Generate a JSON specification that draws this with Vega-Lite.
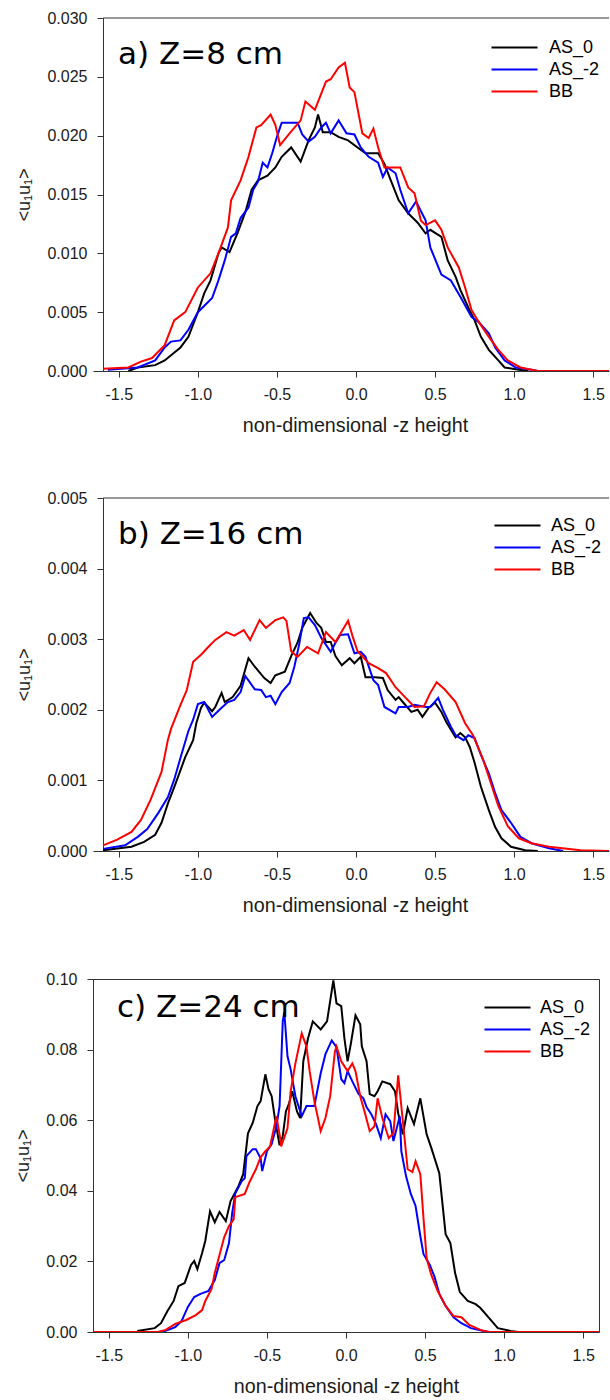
{
  "$schema": "https://vega.github.io/schema/vega-lite/v6.json",
  "background": "white",
  "padding": {"left": 14, "top": 10, "right": 0, "bottom": 0},
  "spacing": 55,
  "resolve": {"scale": {"color": "independent"}, "legend": {"color": "independent"}},
  "datasets": {
    "a": [
      {"s":"AS_0","x":-1.44,"y":0},{"s":"AS_0","x":-1.38,"y":0.0003},{"s":"AS_0","x":-1.27,"y":0.0005},{"s":"AS_0","x":-1.21,"y":0.0009},{"s":"AS_0","x":-1.11,"y":0.0020},{"s":"AS_0","x":-1.06,"y":0.0029},{"s":"AS_0","x":-1.00,"y":0.0050},{"s":"AS_0","x":-0.96,"y":0.0066},{"s":"AS_0","x":-0.92,"y":0.0077},{"s":"AS_0","x":-0.87,"y":0.0100},{"s":"AS_0","x":-0.85,"y":0.0105},{"s":"AS_0","x":-0.80,"y":0.0101},{"s":"AS_0","x":-0.75,"y":0.0117},{"s":"AS_0","x":-0.70,"y":0.0135},{"s":"AS_0","x":-0.66,"y":0.0154},{"s":"AS_0","x":-0.62,"y":0.0162},{"s":"AS_0","x":-0.56,"y":0.0166},{"s":"AS_0","x":-0.51,"y":0.0173},{"s":"AS_0","x":-0.47,"y":0.0182},{"s":"AS_0","x":-0.41,"y":0.0190},{"s":"AS_0","x":-0.35,"y":0.0178},{"s":"AS_0","x":-0.30,"y":0.0196},{"s":"AS_0","x":-0.26,"y":0.0207},{"s":"AS_0","x":-0.24,"y":0.0218},{"s":"AS_0","x":-0.21,"y":0.0203},{"s":"AS_0","x":-0.16,"y":0.0203},{"s":"AS_0","x":-0.11,"y":0.0199},{"s":"AS_0","x":-0.05,"y":0.0196},{"s":"AS_0","x":0.01,"y":0.0190},{"s":"AS_0","x":0.06,"y":0.0185},{"s":"AS_0","x":0.14,"y":0.0185},{"s":"AS_0","x":0.18,"y":0.0176},{"s":"AS_0","x":0.22,"y":0.0162},{"s":"AS_0","x":0.27,"y":0.0145},{"s":"AS_0","x":0.33,"y":0.0134},{"s":"AS_0","x":0.39,"y":0.0126},{"s":"AS_0","x":0.44,"y":0.0117},{"s":"AS_0","x":0.47,"y":0.0120},{"s":"AS_0","x":0.54,"y":0.0114},{"s":"AS_0","x":0.58,"y":0.0094},{"s":"AS_0","x":0.63,"y":0.0080},{"s":"AS_0","x":0.66,"y":0.0069},{"s":"AS_0","x":0.71,"y":0.0054},{"s":"AS_0","x":0.75,"y":0.0043},{"s":"AS_0","x":0.79,"y":0.0029},{"s":"AS_0","x":0.84,"y":0.0018},{"s":"AS_0","x":0.90,"y":0.0009},{"s":"AS_0","x":0.94,"y":0.0003},{"s":"AS_0","x":1.03,"y":0.0001},{"s":"AS_0","x":1.09,"y":0},
      {"s":"AS_-2","x":-1.57,"y":0.0001},{"s":"AS_-2","x":-1.38,"y":0.0003},{"s":"AS_-2","x":-1.27,"y":0.0009},{"s":"AS_-2","x":-1.21,"y":0.0020},{"s":"AS_-2","x":-1.17,"y":0.0025},{"s":"AS_-2","x":-1.11,"y":0.0026},{"s":"AS_-2","x":-1.06,"y":0.0035},{"s":"AS_-2","x":-1.00,"y":0.0050},{"s":"AS_-2","x":-0.94,"y":0.0058},{"s":"AS_-2","x":-0.91,"y":0.0062},{"s":"AS_-2","x":-0.87,"y":0.0077},{"s":"AS_-2","x":-0.83,"y":0.0094},{"s":"AS_-2","x":-0.79,"y":0.0114},{"s":"AS_-2","x":-0.76,"y":0.0117},{"s":"AS_-2","x":-0.73,"y":0.0130},{"s":"AS_-2","x":-0.68,"y":0.0139},{"s":"AS_-2","x":-0.65,"y":0.0154},{"s":"AS_-2","x":-0.62,"y":0.0161},{"s":"AS_-2","x":-0.59,"y":0.0177},{"s":"AS_-2","x":-0.56,"y":0.0173},{"s":"AS_-2","x":-0.53,"y":0.0185},{"s":"AS_-2","x":-0.50,"y":0.0199},{"s":"AS_-2","x":-0.47,"y":0.0211},{"s":"AS_-2","x":-0.41,"y":0.0211},{"s":"AS_-2","x":-0.37,"y":0.0211},{"s":"AS_-2","x":-0.34,"y":0.0201},{"s":"AS_-2","x":-0.30,"y":0.0195},{"s":"AS_-2","x":-0.26,"y":0.0199},{"s":"AS_-2","x":-0.22,"y":0.0207},{"s":"AS_-2","x":-0.19,"y":0.0211},{"s":"AS_-2","x":-0.16,"y":0.0202},{"s":"AS_-2","x":-0.11,"y":0.0213},{"s":"AS_-2","x":-0.06,"y":0.0202},{"s":"AS_-2","x":-0.01,"y":0.0201},{"s":"AS_-2","x":0.03,"y":0.0190},{"s":"AS_-2","x":0.08,"y":0.0182},{"s":"AS_-2","x":0.14,"y":0.0177},{"s":"AS_-2","x":0.17,"y":0.0165},{"s":"AS_-2","x":0.20,"y":0.0173},{"s":"AS_-2","x":0.25,"y":0.0168},{"s":"AS_-2","x":0.28,"y":0.0154},{"s":"AS_-2","x":0.33,"y":0.0134},{"s":"AS_-2","x":0.38,"y":0.0144},{"s":"AS_-2","x":0.44,"y":0.0128},{"s":"AS_-2","x":0.47,"y":0.0105},{"s":"AS_-2","x":0.54,"y":0.0082},{"s":"AS_-2","x":0.60,"y":0.0077},{"s":"AS_-2","x":0.66,"y":0.0063},{"s":"AS_-2","x":0.73,"y":0.0046},{"s":"AS_-2","x":0.78,"y":0.0041},{"s":"AS_-2","x":0.84,"y":0.0032},{"s":"AS_-2","x":0.88,"y":0.0020},{"s":"AS_-2","x":0.94,"y":0.0009},{"s":"AS_-2","x":1.01,"y":0.0003},{"s":"AS_-2","x":1.11,"y":0.0001},{"s":"AS_-2","x":1.15,"y":0},
      {"s":"BB","x":-1.60,"y":0.0002},{"s":"BB","x":-1.44,"y":0.0003},{"s":"BB","x":-1.36,"y":0.0008},{"s":"BB","x":-1.29,"y":0.0011},{"s":"BB","x":-1.21,"y":0.0022},{"s":"BB","x":-1.15,"y":0.0043},{"s":"BB","x":-1.08,"y":0.0050},{"s":"BB","x":-1.00,"y":0.0071},{"s":"BB","x":-0.92,"y":0.0083},{"s":"BB","x":-0.87,"y":0.0100},{"s":"BB","x":-0.81,"y":0.0122},{"s":"BB","x":-0.79,"y":0.0145},{"s":"BB","x":-0.73,"y":0.0162},{"s":"BB","x":-0.68,"y":0.0182},{"s":"BB","x":-0.63,"y":0.0207},{"s":"BB","x":-0.60,"y":0.0209},{"s":"BB","x":-0.54,"y":0.0218},{"s":"BB","x":-0.51,"y":0.0209},{"s":"BB","x":-0.48,"y":0.0192},{"s":"BB","x":-0.42,"y":0.0202},{"s":"BB","x":-0.35,"y":0.0213},{"s":"BB","x":-0.32,"y":0.0229},{"s":"BB","x":-0.26,"y":0.0222},{"s":"BB","x":-0.19,"y":0.0246},{"s":"BB","x":-0.16,"y":0.0248},{"s":"BB","x":-0.11,"y":0.0258},{"s":"BB","x":-0.07,"y":0.0262},{"s":"BB","x":-0.04,"y":0.0241},{"s":"BB","x":-0.01,"y":0.0237},{"s":"BB","x":0.04,"y":0.0202},{"s":"BB","x":0.08,"y":0.0198},{"s":"BB","x":0.11,"y":0.0206},{"s":"BB","x":0.14,"y":0.0190},{"s":"BB","x":0.18,"y":0.0173},{"s":"BB","x":0.22,"y":0.0173},{"s":"BB","x":0.28,"y":0.0173},{"s":"BB","x":0.33,"y":0.0156},{"s":"BB","x":0.37,"y":0.0151},{"s":"BB","x":0.41,"y":0.0128},{"s":"BB","x":0.44,"y":0.0124},{"s":"BB","x":0.50,"y":0.0128},{"s":"BB","x":0.54,"y":0.0120},{"s":"BB","x":0.58,"y":0.0105},{"s":"BB","x":0.65,"y":0.0088},{"s":"BB","x":0.69,"y":0.0071},{"s":"BB","x":0.73,"y":0.0052},{"s":"BB","x":0.77,"y":0.0043},{"s":"BB","x":0.84,"y":0.0029},{"s":"BB","x":0.90,"y":0.0018},{"s":"BB","x":0.96,"y":0.0009},{"s":"BB","x":1.04,"y":0.0003},{"s":"BB","x":1.15,"y":0},{"s":"BB","x":1.60,"y":0}
    ],
    "b": [
      {"s":"AS_0","x":-1.60,"y":0.00001},{"s":"AS_0","x":-1.42,"y":0.00006},{"s":"AS_0","x":-1.34,"y":0.00013},{"s":"AS_0","x":-1.27,"y":0.00023},{"s":"AS_0","x":-1.23,"y":0.00040},{"s":"AS_0","x":-1.19,"y":0.00067},{"s":"AS_0","x":-1.14,"y":0.00096},{"s":"AS_0","x":-1.08,"y":0.00133},{"s":"AS_0","x":-1.03,"y":0.00157},{"s":"AS_0","x":-1.01,"y":0.00181},{"s":"AS_0","x":-0.98,"y":0.00203},{"s":"AS_0","x":-0.96,"y":0.00210},{"s":"AS_0","x":-0.91,"y":0.00198},{"s":"AS_0","x":-0.89,"y":0.00204},{"s":"AS_0","x":-0.85,"y":0.00224},{"s":"AS_0","x":-0.83,"y":0.00211},{"s":"AS_0","x":-0.78,"y":0.00218},{"s":"AS_0","x":-0.73,"y":0.00234},{"s":"AS_0","x":-0.68,"y":0.00273},{"s":"AS_0","x":-0.64,"y":0.00261},{"s":"AS_0","x":-0.58,"y":0.00245},{"s":"AS_0","x":-0.54,"y":0.00238},{"s":"AS_0","x":-0.51,"y":0.00249},{"s":"AS_0","x":-0.45,"y":0.00254},{"s":"AS_0","x":-0.41,"y":0.00276},{"s":"AS_0","x":-0.37,"y":0.00295},{"s":"AS_0","x":-0.34,"y":0.00316},{"s":"AS_0","x":-0.29,"y":0.00337},{"s":"AS_0","x":-0.25,"y":0.00323},{"s":"AS_0","x":-0.22,"y":0.00316},{"s":"AS_0","x":-0.19,"y":0.00296},{"s":"AS_0","x":-0.16,"y":0.00296},{"s":"AS_0","x":-0.13,"y":0.00276},{"s":"AS_0","x":-0.09,"y":0.00263},{"s":"AS_0","x":-0.04,"y":0.00273},{"s":"AS_0","x":-0.01,"y":0.00266},{"s":"AS_0","x":0.03,"y":0.00275},{"s":"AS_0","x":0.06,"y":0.00246},{"s":"AS_0","x":0.12,"y":0.00246},{"s":"AS_0","x":0.17,"y":0.00245},{"s":"AS_0","x":0.20,"y":0.00228},{"s":"AS_0","x":0.25,"y":0.00214},{"s":"AS_0","x":0.27,"y":0.00218},{"s":"AS_0","x":0.30,"y":0.00210},{"s":"AS_0","x":0.35,"y":0.00197},{"s":"AS_0","x":0.39,"y":0.00200},{"s":"AS_0","x":0.42,"y":0.00190},{"s":"AS_0","x":0.46,"y":0.00203},{"s":"AS_0","x":0.50,"y":0.00210},{"s":"AS_0","x":0.54,"y":0.00197},{"s":"AS_0","x":0.57,"y":0.00183},{"s":"AS_0","x":0.63,"y":0.00161},{"s":"AS_0","x":0.66,"y":0.00167},{"s":"AS_0","x":0.69,"y":0.00161},{"s":"AS_0","x":0.72,"y":0.00147},{"s":"AS_0","x":0.75,"y":0.00125},{"s":"AS_0","x":0.79,"y":0.00091},{"s":"AS_0","x":0.84,"y":0.00058},{"s":"AS_0","x":0.88,"y":0.00034},{"s":"AS_0","x":0.92,"y":0.00018},{"s":"AS_0","x":0.98,"y":0.00006},{"s":"AS_0","x":1.07,"y":0.00001},{"s":"AS_0","x":1.15,"y":0},
      {"s":"AS_-2","x":-1.60,"y":0.00003},{"s":"AS_-2","x":-1.46,"y":0.00008},{"s":"AS_-2","x":-1.38,"y":0.00020},{"s":"AS_-2","x":-1.32,"y":0.00031},{"s":"AS_-2","x":-1.25,"y":0.00054},{"s":"AS_-2","x":-1.19,"y":0.00076},{"s":"AS_-2","x":-1.15,"y":0.00101},{"s":"AS_-2","x":-1.11,"y":0.00132},{"s":"AS_-2","x":-1.06,"y":0.00170},{"s":"AS_-2","x":-1.03,"y":0.00186},{"s":"AS_-2","x":-1.00,"y":0.00208},{"s":"AS_-2","x":-0.96,"y":0.00211},{"s":"AS_-2","x":-0.91,"y":0.00190},{"s":"AS_-2","x":-0.85,"y":0.00203},{"s":"AS_-2","x":-0.81,"y":0.00211},{"s":"AS_-2","x":-0.77,"y":0.00214},{"s":"AS_-2","x":-0.73,"y":0.00225},{"s":"AS_-2","x":-0.70,"y":0.00248},{"s":"AS_-2","x":-0.64,"y":0.00229},{"s":"AS_-2","x":-0.60,"y":0.00228},{"s":"AS_-2","x":-0.57,"y":0.00218},{"s":"AS_-2","x":-0.54,"y":0.00220},{"s":"AS_-2","x":-0.51,"y":0.00208},{"s":"AS_-2","x":-0.47,"y":0.00225},{"s":"AS_-2","x":-0.42,"y":0.00238},{"s":"AS_-2","x":-0.39,"y":0.00261},{"s":"AS_-2","x":-0.36,"y":0.00292},{"s":"AS_-2","x":-0.33,"y":0.00330},{"s":"AS_-2","x":-0.30,"y":0.00331},{"s":"AS_-2","x":-0.26,"y":0.00320},{"s":"AS_-2","x":-0.22,"y":0.00302},{"s":"AS_-2","x":-0.16,"y":0.00282},{"s":"AS_-2","x":-0.13,"y":0.00295},{"s":"AS_-2","x":-0.10,"y":0.00306},{"s":"AS_-2","x":-0.05,"y":0.00307},{"s":"AS_-2","x":-0.01,"y":0.00280},{"s":"AS_-2","x":0.03,"y":0.00282},{"s":"AS_-2","x":0.06,"y":0.00275},{"s":"AS_-2","x":0.11,"y":0.00242},{"s":"AS_-2","x":0.14,"y":0.00235},{"s":"AS_-2","x":0.18,"y":0.00204},{"s":"AS_-2","x":0.25,"y":0.00195},{"s":"AS_-2","x":0.27,"y":0.00204},{"s":"AS_-2","x":0.33,"y":0.00204},{"s":"AS_-2","x":0.37,"y":0.00207},{"s":"AS_-2","x":0.44,"y":0.00204},{"s":"AS_-2","x":0.47,"y":0.00204},{"s":"AS_-2","x":0.52,"y":0.00217},{"s":"AS_-2","x":0.55,"y":0.00200},{"s":"AS_-2","x":0.60,"y":0.00176},{"s":"AS_-2","x":0.63,"y":0.00164},{"s":"AS_-2","x":0.68,"y":0.00157},{"s":"AS_-2","x":0.71,"y":0.00164},{"s":"AS_-2","x":0.75,"y":0.00160},{"s":"AS_-2","x":0.79,"y":0.00136},{"s":"AS_-2","x":0.84,"y":0.00110},{"s":"AS_-2","x":0.88,"y":0.00082},{"s":"AS_-2","x":0.92,"y":0.00058},{"s":"AS_-2","x":0.98,"y":0.00040},{"s":"AS_-2","x":1.04,"y":0.00020},{"s":"AS_-2","x":1.11,"y":0.00011},{"s":"AS_-2","x":1.22,"y":0.00004},{"s":"AS_-2","x":1.31,"y":0},
      {"s":"BB","x":-1.60,"y":0.00008},{"s":"BB","x":-1.51,"y":0.00016},{"s":"BB","x":-1.42,"y":0.00027},{"s":"BB","x":-1.36,"y":0.00044},{"s":"BB","x":-1.30,"y":0.00072},{"s":"BB","x":-1.23,"y":0.00112},{"s":"BB","x":-1.19,"y":0.00157},{"s":"BB","x":-1.17,"y":0.00173},{"s":"BB","x":-1.11,"y":0.00207},{"s":"BB","x":-1.07,"y":0.00228},{"s":"BB","x":-1.03,"y":0.00268},{"s":"BB","x":-0.98,"y":0.00278},{"s":"BB","x":-0.93,"y":0.00290},{"s":"BB","x":-0.89,"y":0.00299},{"s":"BB","x":-0.82,"y":0.00310},{"s":"BB","x":-0.77,"y":0.00305},{"s":"BB","x":-0.71,"y":0.00313},{"s":"BB","x":-0.67,"y":0.00299},{"s":"BB","x":-0.61,"y":0.00327},{"s":"BB","x":-0.57,"y":0.00316},{"s":"BB","x":-0.51,"y":0.00327},{"s":"BB","x":-0.46,"y":0.00331},{"s":"BB","x":-0.44,"y":0.00326},{"s":"BB","x":-0.41,"y":0.00283},{"s":"BB","x":-0.37,"y":0.00275},{"s":"BB","x":-0.31,"y":0.00289},{"s":"BB","x":-0.24,"y":0.00280},{"s":"BB","x":-0.19,"y":0.00310},{"s":"BB","x":-0.13,"y":0.00296},{"s":"BB","x":-0.05,"y":0.00326},{"s":"BB","x":-0.02,"y":0.00303},{"s":"BB","x":0.01,"y":0.00283},{"s":"BB","x":0.08,"y":0.00266},{"s":"BB","x":0.14,"y":0.00259},{"s":"BB","x":0.19,"y":0.00252},{"s":"BB","x":0.25,"y":0.00232},{"s":"BB","x":0.31,"y":0.00218},{"s":"BB","x":0.37,"y":0.00204},{"s":"BB","x":0.43,"y":0.00205},{"s":"BB","x":0.47,"y":0.00224},{"s":"BB","x":0.51,"y":0.00239},{"s":"BB","x":0.56,"y":0.00229},{"s":"BB","x":0.63,"y":0.00211},{"s":"BB","x":0.69,"y":0.00181},{"s":"BB","x":0.74,"y":0.00164},{"s":"BB","x":0.80,"y":0.00132},{"s":"BB","x":0.85,"y":0.00098},{"s":"BB","x":0.90,"y":0.00064},{"s":"BB","x":0.96,"y":0.00035},{"s":"BB","x":1.03,"y":0.00018},{"s":"BB","x":1.11,"y":0.00011},{"s":"BB","x":1.22,"y":0.00006},{"s":"BB","x":1.42,"y":0.00001},{"s":"BB","x":1.60,"y":0}
    ],
    "c": [
      {"s":"AS_0","x":-1.32,"y":0.0003},{"s":"AS_0","x":-1.21,"y":0.0011},{"s":"AS_0","x":-1.17,"y":0.0025},{"s":"AS_0","x":-1.13,"y":0.0059},{"s":"AS_0","x":-1.09,"y":0.0088},{"s":"AS_0","x":-1.06,"y":0.0130},{"s":"AS_0","x":-1.02,"y":0.0139},{"s":"AS_0","x":-0.98,"y":0.0190},{"s":"AS_0","x":-0.96,"y":0.0201},{"s":"AS_0","x":-0.94,"y":0.0178},{"s":"AS_0","x":-0.91,"y":0.0224},{"s":"AS_0","x":-0.89,"y":0.0258},{"s":"AS_0","x":-0.86,"y":0.0342},{"s":"AS_0","x":-0.83,"y":0.0311},{"s":"AS_0","x":-0.80,"y":0.0340},{"s":"AS_0","x":-0.76,"y":0.0314},{"s":"AS_0","x":-0.73,"y":0.0371},{"s":"AS_0","x":-0.68,"y":0.0413},{"s":"AS_0","x":-0.65,"y":0.0447},{"s":"AS_0","x":-0.62,"y":0.0563},{"s":"AS_0","x":-0.59,"y":0.0592},{"s":"AS_0","x":-0.56,"y":0.0640},{"s":"AS_0","x":-0.54,"y":0.0654},{"s":"AS_0","x":-0.51,"y":0.0730},{"s":"AS_0","x":-0.49,"y":0.0688},{"s":"AS_0","x":-0.47,"y":0.0668},{"s":"AS_0","x":-0.45,"y":0.0606},{"s":"AS_0","x":-0.42,"y":0.0529},{"s":"AS_0","x":-0.40,"y":0.0555},{"s":"AS_0","x":-0.38,"y":0.0625},{"s":"AS_0","x":-0.36,"y":0.0648},{"s":"AS_0","x":-0.34,"y":0.0682},{"s":"AS_0","x":-0.31,"y":0.0625},{"s":"AS_0","x":-0.29,"y":0.0606},{"s":"AS_0","x":-0.27,"y":0.0767},{"s":"AS_0","x":-0.24,"y":0.0832},{"s":"AS_0","x":-0.21,"y":0.0880},{"s":"AS_0","x":-0.16,"y":0.0857},{"s":"AS_0","x":-0.12,"y":0.0880},{"s":"AS_0","x":-0.08,"y":0.0996},{"s":"AS_0","x":-0.06,"y":0.0931},{"s":"AS_0","x":-0.03,"y":0.0923},{"s":"AS_0","x":-0.01,"y":0.0832},{"s":"AS_0","x":0.01,"y":0.0767},{"s":"AS_0","x":0.03,"y":0.0815},{"s":"AS_0","x":0.06,"y":0.0897},{"s":"AS_0","x":0.09,"y":0.0872},{"s":"AS_0","x":0.10,"y":0.0809},{"s":"AS_0","x":0.13,"y":0.0767},{"s":"AS_0","x":0.15,"y":0.0674},{"s":"AS_0","x":0.18,"y":0.0668},{"s":"AS_0","x":0.20,"y":0.0682},{"s":"AS_0","x":0.23,"y":0.0710},{"s":"AS_0","x":0.28,"y":0.0702},{"s":"AS_0","x":0.31,"y":0.0682},{"s":"AS_0","x":0.33,"y":0.0620},{"s":"AS_0","x":0.36,"y":0.0560},{"s":"AS_0","x":0.39,"y":0.0634},{"s":"AS_0","x":0.43,"y":0.0589},{"s":"AS_0","x":0.47,"y":0.0662},{"s":"AS_0","x":0.51,"y":0.0560},{"s":"AS_0","x":0.54,"y":0.0521},{"s":"AS_0","x":0.59,"y":0.0450},{"s":"AS_0","x":0.63,"y":0.0277},{"s":"AS_0","x":0.66,"y":0.0252},{"s":"AS_0","x":0.69,"y":0.0167},{"s":"AS_0","x":0.72,"y":0.0113},{"s":"AS_0","x":0.77,"y":0.0088},{"s":"AS_0","x":0.82,"y":0.0079},{"s":"AS_0","x":0.85,"y":0.0068},{"s":"AS_0","x":0.90,"y":0.0042},{"s":"AS_0","x":0.96,"y":0.0011},{"s":"AS_0","x":1.04,"y":0.0003},{"s":"AS_0","x":1.09,"y":0},
      {"s":"AS_-2","x":-1.16,"y":0},{"s":"AS_-2","x":-1.08,"y":0.0014},{"s":"AS_-2","x":-1.04,"y":0.0031},{"s":"AS_-2","x":-1.00,"y":0.0071},{"s":"AS_-2","x":-0.96,"y":0.0099},{"s":"AS_-2","x":-0.92,"y":0.0108},{"s":"AS_-2","x":-0.87,"y":0.0116},{"s":"AS_-2","x":-0.83,"y":0.0147},{"s":"AS_-2","x":-0.80,"y":0.0195},{"s":"AS_-2","x":-0.77,"y":0.0204},{"s":"AS_-2","x":-0.74,"y":0.0252},{"s":"AS_-2","x":-0.72,"y":0.0337},{"s":"AS_-2","x":-0.70,"y":0.0393},{"s":"AS_-2","x":-0.66,"y":0.0427},{"s":"AS_-2","x":-0.64,"y":0.0436},{"s":"AS_-2","x":-0.63,"y":0.0498},{"s":"AS_-2","x":-0.59,"y":0.0518},{"s":"AS_-2","x":-0.57,"y":0.0518},{"s":"AS_-2","x":-0.54,"y":0.0492},{"s":"AS_-2","x":-0.53,"y":0.0456},{"s":"AS_-2","x":-0.50,"y":0.0512},{"s":"AS_-2","x":-0.47,"y":0.0532},{"s":"AS_-2","x":-0.44,"y":0.0583},{"s":"AS_-2","x":-0.42,"y":0.0640},{"s":"AS_-2","x":-0.40,"y":0.0880},{"s":"AS_-2","x":-0.39,"y":0.0906},{"s":"AS_-2","x":-0.37,"y":0.0781},{"s":"AS_-2","x":-0.35,"y":0.0744},{"s":"AS_-2","x":-0.32,"y":0.0668},{"s":"AS_-2","x":-0.28,"y":0.0611},{"s":"AS_-2","x":-0.25,"y":0.0640},{"s":"AS_-2","x":-0.20,"y":0.0640},{"s":"AS_-2","x":-0.16,"y":0.0733},{"s":"AS_-2","x":-0.13,"y":0.0787},{"s":"AS_-2","x":-0.09,"y":0.0826},{"s":"AS_-2","x":-0.06,"y":0.0807},{"s":"AS_-2","x":-0.03,"y":0.0716},{"s":"AS_-2","x":-0.01,"y":0.0705},{"s":"AS_-2","x":0.01,"y":0.0739},{"s":"AS_-2","x":0.04,"y":0.0710},{"s":"AS_-2","x":0.08,"y":0.0674},{"s":"AS_-2","x":0.11,"y":0.0662},{"s":"AS_-2","x":0.13,"y":0.0637},{"s":"AS_-2","x":0.16,"y":0.0617},{"s":"AS_-2","x":0.19,"y":0.0589},{"s":"AS_-2","x":0.22,"y":0.0549},{"s":"AS_-2","x":0.25,"y":0.0617},{"s":"AS_-2","x":0.28,"y":0.0597},{"s":"AS_-2","x":0.30,"y":0.0541},{"s":"AS_-2","x":0.34,"y":0.0611},{"s":"AS_-2","x":0.35,"y":0.0512},{"s":"AS_-2","x":0.38,"y":0.0441},{"s":"AS_-2","x":0.41,"y":0.0391},{"s":"AS_-2","x":0.44,"y":0.0357},{"s":"AS_-2","x":0.47,"y":0.0272},{"s":"AS_-2","x":0.49,"y":0.0221},{"s":"AS_-2","x":0.53,"y":0.0190},{"s":"AS_-2","x":0.56,"y":0.0156},{"s":"AS_-2","x":0.59,"y":0.0108},{"s":"AS_-2","x":0.63,"y":0.0074},{"s":"AS_-2","x":0.68,"y":0.0042},{"s":"AS_-2","x":0.73,"y":0.0025},{"s":"AS_-2","x":0.79,"y":0.0011},{"s":"AS_-2","x":0.87,"y":0.0003},{"s":"AS_-2","x":0.91,"y":0},
      {"s":"BB","x":-1.60,"y":0},{"s":"BB","x":-1.19,"y":0},{"s":"BB","x":-1.14,"y":0.0006},{"s":"BB","x":-1.08,"y":0.0023},{"s":"BB","x":-1.01,"y":0.0034},{"s":"BB","x":-0.95,"y":0.0048},{"s":"BB","x":-0.91,"y":0.0062},{"s":"BB","x":-0.89,"y":0.0088},{"s":"BB","x":-0.85,"y":0.0122},{"s":"BB","x":-0.83,"y":0.0167},{"s":"BB","x":-0.80,"y":0.0218},{"s":"BB","x":-0.77,"y":0.0269},{"s":"BB","x":-0.74,"y":0.0300},{"s":"BB","x":-0.71,"y":0.0320},{"s":"BB","x":-0.70,"y":0.0382},{"s":"BB","x":-0.64,"y":0.0391},{"s":"BB","x":-0.61,"y":0.0425},{"s":"BB","x":-0.57,"y":0.0461},{"s":"BB","x":-0.54,"y":0.0495},{"s":"BB","x":-0.51,"y":0.0512},{"s":"BB","x":-0.48,"y":0.0526},{"s":"BB","x":-0.46,"y":0.0569},{"s":"BB","x":-0.44,"y":0.0611},{"s":"BB","x":-0.42,"y":0.0560},{"s":"BB","x":-0.41,"y":0.0526},{"s":"BB","x":-0.37,"y":0.0577},{"s":"BB","x":-0.35,"y":0.0682},{"s":"BB","x":-0.32,"y":0.0761},{"s":"BB","x":-0.28,"y":0.0846},{"s":"BB","x":-0.25,"y":0.0809},{"s":"BB","x":-0.23,"y":0.0739},{"s":"BB","x":-0.20,"y":0.0654},{"s":"BB","x":-0.16,"y":0.0569},{"s":"BB","x":-0.13,"y":0.0606},{"s":"BB","x":-0.10,"y":0.0668},{"s":"BB","x":-0.07,"y":0.0795},{"s":"BB","x":-0.06,"y":0.0809},{"s":"BB","x":-0.03,"y":0.0767},{"s":"BB","x":0.01,"y":0.0739},{"s":"BB","x":0.04,"y":0.0761},{"s":"BB","x":0.06,"y":0.0739},{"s":"BB","x":0.09,"y":0.0668},{"s":"BB","x":0.12,"y":0.0620},{"s":"BB","x":0.15,"y":0.0569},{"s":"BB","x":0.18,"y":0.0583},{"s":"BB","x":0.20,"y":0.0662},{"s":"BB","x":0.23,"y":0.0606},{"s":"BB","x":0.27,"y":0.0549},{"s":"BB","x":0.30,"y":0.0563},{"s":"BB","x":0.33,"y":0.0727},{"s":"BB","x":0.35,"y":0.0640},{"s":"BB","x":0.39,"y":0.0461},{"s":"BB","x":0.42,"y":0.0453},{"s":"BB","x":0.44,"y":0.0484},{"s":"BB","x":0.47,"y":0.0447},{"s":"BB","x":0.49,"y":0.0323},{"s":"BB","x":0.51,"y":0.0209},{"s":"BB","x":0.54,"y":0.0161},{"s":"BB","x":0.58,"y":0.0116},{"s":"BB","x":0.63,"y":0.0074},{"s":"BB","x":0.68,"y":0.0045},{"s":"BB","x":0.73,"y":0.0042},{"s":"BB","x":0.78,"y":0.0020},{"s":"BB","x":0.85,"y":0.0006},{"s":"BB","x":0.90,"y":0},{"s":"BB","x":1.60,"y":0}
    ]
  },
  "vconcat": [
    {
      "width": 516, "height": 353,
      "view": {"stroke": null},
      "title": {"text": "a) Z=8 cm", "anchor": "start", "frame": "group", "offset": -85, "dx": 25, "baseline": "alphabetic", "font": "DejaVu Sans", "fontSize": 31, "fontWeight": "normal", "color": "#000000"},
      "layer": [
        {
          "data": {"name": "a"},
          "mark": {"type": "line", "strokeWidth": 2, "clip": true},
          "encoding": {
            "x": {"field": "x", "type": "quantitative", "scale": {"domain": [-1.6633, 1.6], "nice": false, "zero": false},
                  "axis": {"values": [-1.5, -1, -0.5, 0, 0.5, 1, 1.5], "labelExpr": "replace(format(datum.value, '.1f'), '\u2212', '-')", "title": "non-dimensional -z height", "titleX": 262}},
            "y": {"field": "y", "type": "quantitative", "scale": {"domain": [0, 0.03], "nice": false},
                  "axis": {"offset": -10, "values": [0, 0.005, 0.01, 0.015, 0.02, 0.025, 0.03], "format": ".3f", "title": "<u\u2081u\u2081>"}},
            "color": {"field": "s", "type": "nominal", "scale": {"domain": ["AS_0", "AS_-2", "BB"], "range": ["#000000", "#0000ff", "#ff0000"]},
                      "legend": {"legendX": 409, "legendY": 17, "labelOffset": 22}}
          }
        },
        {
          "data": {"values": [{}]},
          "mark": {"type": "rule", "color": "#333333", "strokeWidth": 1},
          "encoding": {"y": {"datum": 0.03}, "x": {"datum": -1.6}, "x2": {"datum": 1.6}}
        }
      ]
    },
    {
      "width": 516, "height": 353,
      "view": {"stroke": null},
      "title": {"text": "b) Z=16 cm", "anchor": "start", "frame": "group", "offset": -85, "dx": 25, "baseline": "alphabetic", "font": "DejaVu Sans", "fontSize": 31, "fontWeight": "normal", "color": "#000000"},
      "layer": [
        {
          "data": {"name": "b"},
          "mark": {"type": "line", "strokeWidth": 2, "clip": true},
          "encoding": {
            "x": {"field": "x", "type": "quantitative", "scale": {"domain": [-1.6633, 1.6], "nice": false, "zero": false},
                  "axis": {"values": [-1.5, -1, -0.5, 0, 0.5, 1, 1.5], "labelExpr": "replace(format(datum.value, '.1f'), '\u2212', '-')", "title": "non-dimensional -z height", "titleX": 262}},
            "y": {"field": "y", "type": "quantitative", "scale": {"domain": [0, 0.005], "nice": false},
                  "axis": {"offset": -10, "values": [0, 0.001, 0.002, 0.003, 0.004, 0.005], "format": ".3f", "title": "<u\u2081u\u2081>"}},
            "color": {"field": "s", "type": "nominal", "scale": {"domain": ["AS_0", "AS_-2", "BB"], "range": ["#000000", "#0000ff", "#ff0000"]},
                      "legend": {"legendX": 412, "legendY": 15, "labelOffset": 21}}
          }
        },
        {
          "data": {"values": [{}]},
          "mark": {"type": "rule", "color": "#333333", "strokeWidth": 1},
          "encoding": {"y": {"datum": 0.005}, "x": {"datum": -1.6}, "x2": {"datum": 1.6}}
        }
      ]
    },
    {
      "width": 506, "height": 353,
      "title": {"text": "c) Z=24 cm", "anchor": "start", "frame": "group", "offset": -77, "dx": 24, "baseline": "alphabetic", "font": "DejaVu Sans", "fontSize": 31, "fontWeight": "normal", "color": "#000000"},
      "layer": [
        {
          "data": {"name": "c"},
          "mark": {"type": "line", "strokeWidth": 2, "clip": true},
          "encoding": {
            "x": {"field": "x", "type": "quantitative", "scale": {"domain": [-1.6, 1.6], "nice": false, "zero": false},
                  "axis": {"values": [-1.5, -1, -0.5, 0, 0.5, 1, 1.5], "labelExpr": "replace(format(datum.value, '.1f'), '\u2212', '-')", "title": "non-dimensional -z height"}},
            "y": {"field": "y", "type": "quantitative", "scale": {"domain": [0, 0.1], "nice": false},
                  "axis": {"values": [0, 0.02, 0.04, 0.06, 0.08, 0.1], "format": ".2f", "title": "<u\u2081u\u2081>"}},
            "color": {"field": "s", "type": "nominal", "scale": {"domain": ["AS_0", "AS_-2", "BB"], "range": ["#000000", "#0000ff", "#ff0000"]},
                      "legend": {"legendX": 402, "legendY": 16, "labelOffset": 20}}
          }
        }
      ]
    }
  ],
  "config": {
    "view": {"stroke": "#333333", "strokeWidth": 1},
    "axis": {"grid": false, "labelFont": "Liberation Sans", "labelFontSize": 16, "labelColor": "#1a1a1a", "tickColor": "#333333", "domainColor": "#333333", "tickSize": 6, "labelFlush": false, "titleFont": "Liberation Sans", "titleFontWeight": "normal", "titleColor": "#1a1a1a"},
    "axisX": {"titleFontSize": 19.7, "titlePadding": 13, "labelPadding": 9},
    "axisY": {"titleFontSize": 18, "titlePadding": 13, "labelPadding": 10},
    "legend": {"orient": "none", "title": null, "symbolType": "M-2,0H2", "symbolSize": 529, "symbolStrokeWidth": 2, "symbolFillColor": "transparent", "labelFont": "Liberation Sans", "labelFontSize": 18, "labelColor": "#000000", "labelOffset": 11, "rowPadding": -2, "padding": 0}
  }
}
